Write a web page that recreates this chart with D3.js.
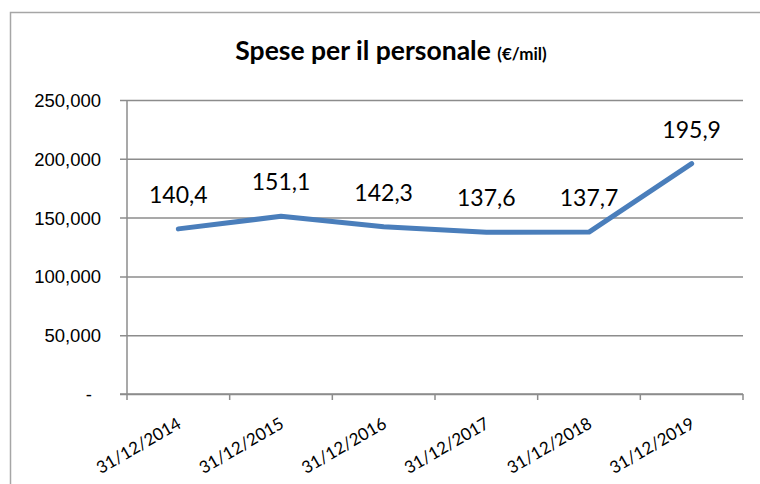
<!DOCTYPE html>
<html>
<head>
<meta charset="utf-8">
<script src="https://cdn.jsdelivr.net/npm/d3@7"></script>
<style>
  body { margin: 0; background: #fff; }
  svg { display: block; font-family: Lato, "Open Sans", sans-serif; }
</style>
</head>
<body>
<div id="chart"></div>
<script>
// spese per il personale, in migliaia di euro
var categories = ["31/12/2014", "31/12/2015", "31/12/2016", "31/12/2017", "31/12/2018", "31/12/2019"];
var values = [140400, 151100, 142300, 137600, 137700, 195900];
var yTicks = [0, 50000, 100000, 150000, 200000, 250000];

var data = categories.map(function(c, i) { return {cat: c, value: values[i]}; });

var svg = d3.select("#chart")
  .append("svg")
  .attr("width", 760)
  .attr("height", 484);

// chart area border (left + top only visible)
svg.append("path")
  .attr("d", "M10.5,484 L10.5,12.5 L760,12.5")
  .attr("fill", "none")
  .attr("stroke", "#a6a6a6")
  .attr("stroke-width", 1.5);

var margin = {top: 100, right: 17, bottom: 90, left: 127};
var width = 760 - margin.left - margin.right,
    height = 484 - margin.top - margin.bottom;

var g = svg.append("g")
  .attr("transform", "translate(" + margin.left + "," + margin.top + ")");

var x = d3.scaleBand()
  .domain(categories)
  .range([0, width])
  .padding(0);

var y = d3.scaleLinear()
  .domain([0, 250000])
  .range([height, 0]);

// gridlines + y axis
var yAxis = g.append("g")
  .call(d3.axisLeft(y)
    .tickValues(yTicks)
    .tickSize(-width)
    .tickSizeOuter(0)
    .tickPadding(26)
    .tickFormat(function(d) { return d === 0 ? "-" : d3.format(",")(d); }));
yAxis.select(".domain").remove();
yAxis.selectAll(".tick line")
  .attr("x1", -7)
  .attr("stroke", "#8c8c8c")
  .attr("stroke-width", 1.5);
yAxis.selectAll(".tick text")
  .attr("fill", "#000")
  .style("font-size", "18.5px")
  .attr("dy", "0.35em");
yAxis.selectAll(".tick text")
  .filter(function(d) { return d === 0; })
  .attr("dx", "-9");

// vertical axis line
g.append("line")
  .attr("x1", 0).attr("x2", 0)
  .attr("y1", 0).attr("y2", height)
  .attr("stroke", "#8c8c8c")
  .attr("stroke-width", 1.5);

// x axis with tick marks between categories
var xAxis = g.append("g")
  .attr("transform", "translate(0," + height + ")");
xAxis.append("line")
  .attr("x1", -7).attr("x2", width)
  .attr("stroke", "#8c8c8c")
  .attr("stroke-width", 1.5);
xAxis.selectAll(".xtick")
  .data(categories.concat(["end"]))
  .enter()
  .append("line")
    .attr("x1", function(d, i) { return i * x.step(); })
    .attr("x2", function(d, i) { return i * x.step(); })
    .attr("y1", 0)
    .attr("y2", 6)
    .attr("stroke", "#8c8c8c")
    .attr("stroke-width", 1.5);
xAxis.selectAll(".xlabel")
  .data(categories)
  .enter()
  .append("text")
    .attr("transform", function(d) {
      return "translate(" + (x(d) + x.bandwidth() / 2 + 4) + ",33)rotate(-30)";
    })
    .attr("text-anchor", "end")
    .style("font-size", "17px")
    .text(function(d) { return d; });

// line
var line = d3.line()
  .x(function(d) { return x(d.cat) + x.bandwidth() / 2; })
  .y(function(d) { return y(d.value); });

g.append("path")
  .datum(data)
  .attr("d", line)
  .attr("fill", "none")
  .attr("stroke", "#4a7ebb")
  .attr("stroke-width", 5)
  .attr("stroke-linejoin", "round")
  .attr("stroke-linecap", "round");

// data labels
g.selectAll(".lbl")
  .data(data)
  .enter()
  .append("text")
    .attr("x", function(d) { return x(d.cat) + x.bandwidth() / 2; })
    .attr("y", function(d) { return y(d.value) - 26; })
    .attr("text-anchor", "middle")
    .style("font-size", "23px")
    .text(function(d) { return d3.format(".1f")(d.value / 1000).replace(".", ","); });

// title
var title = svg.append("text")
  .attr("x", 391)
  .attr("y", 60)
  .attr("text-anchor", "middle")
  .style("font-weight", "bold");
title.append("tspan")
  .style("font-size", "26.5px")
  .text("Spese per il personale ");
title.append("tspan")
  .style("font-size", "17px")
  .text("(€/mil)");
</script>
</body>
</html>
